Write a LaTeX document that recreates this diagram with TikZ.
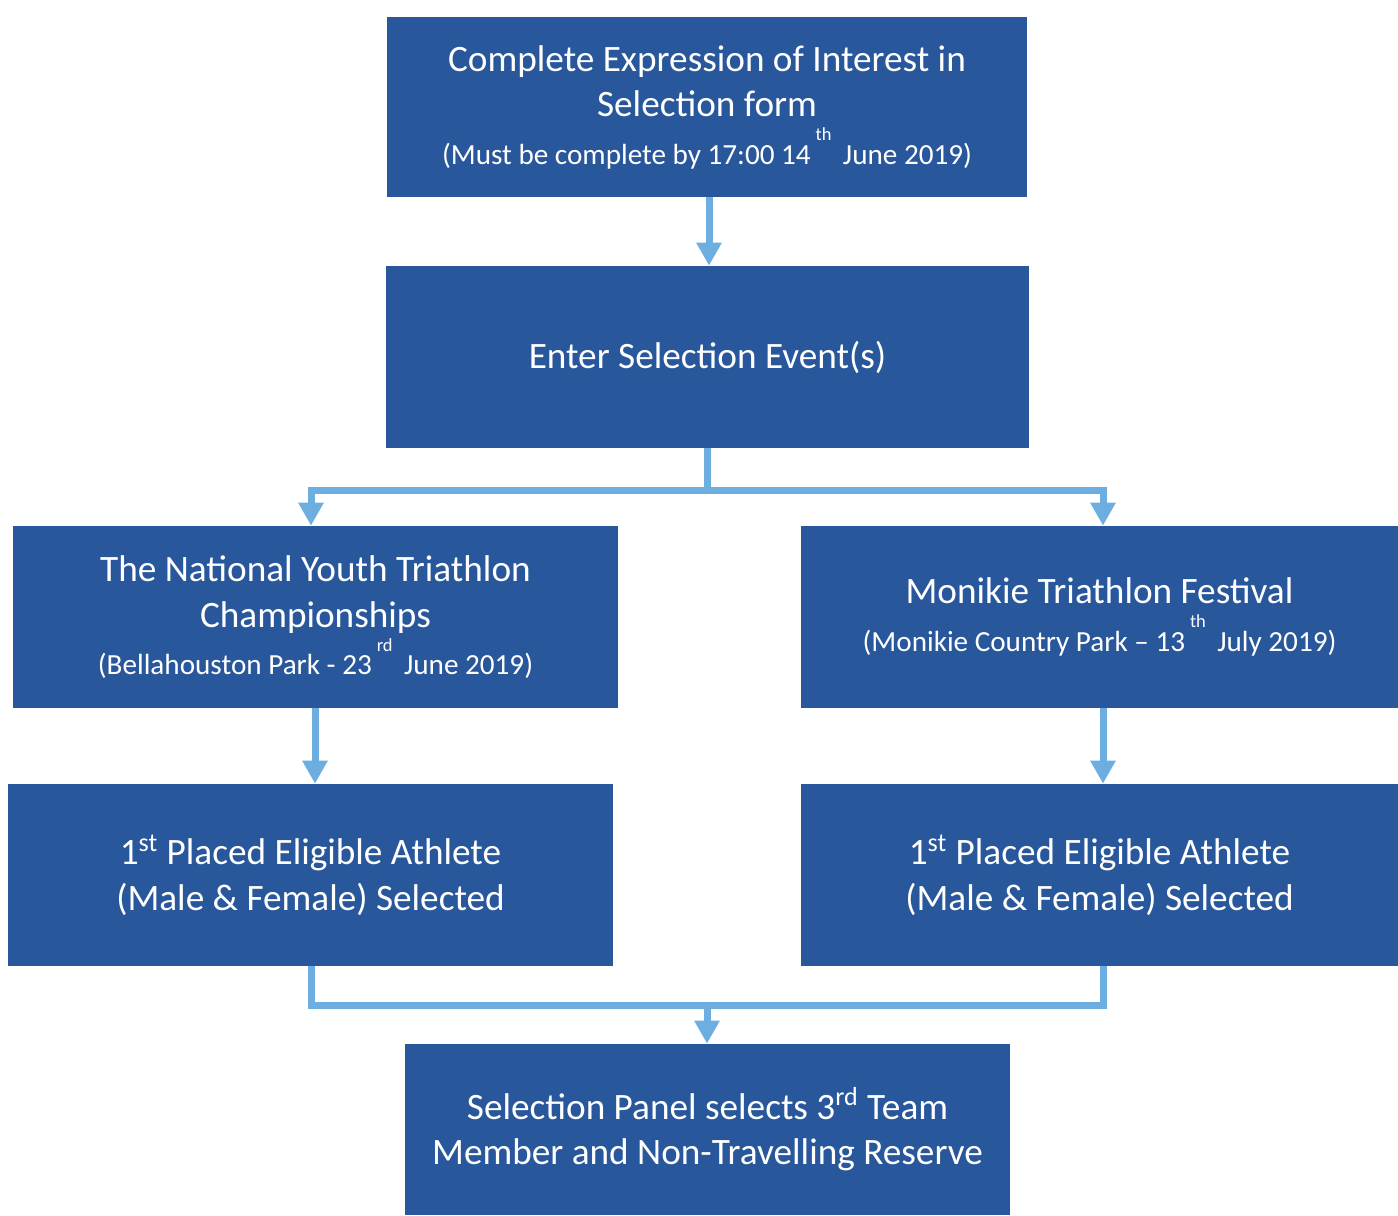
\documentclass[tikz,border=0pt]{standalone}
\usepackage{fontspec}
\setmainfont{Carlito}
\usetikzlibrary{positioning}
\usetikzlibrary{arrows.meta}

\definecolor{boxblue}{RGB}{41,87,155}
\definecolor{flowblue}{RGB}{108,174,223}

\newcommand{\bigtext}{\fontsize{21.2}{26}\selectfont}
\newcommand{\smalltext}{\fontsize{16.6}{20}\selectfont}
\newcommand{\highsup}[1]{\,\raisebox{0.8em}{\fontsize{10.5}{10}\selectfont #1}\,}

\begin{document}
\begin{tikzpicture}[x=0.02cm,y=-0.02cm]
    \tikzset{block/.style= {fill=boxblue, text=white, align=center, inner sep=0pt, minimum width=12.1cm, minimum height=3.64cm, font=\bigtext},
             line/.style= {draw=flowblue, line width=0.14cm, line join=miter},
             flow/.style= {line, -{Triangle[width=0.48cm,length=0.46cm]}},}

    \useasboundingbox (0,0) rectangle (1398,1215);

    \node [block, minimum width=12.8cm, minimum height=3.6cm] (eoi) at (707,107)
        {Complete Expression of Interest in\\Selection form\\[1pt]
         {\smalltext (Must be complete by 17:00 14\highsup{th} June 2019)}};
    \node [block, minimum width=12.86cm] (enter) at (707.5,357) {Enter Selection Event(s)};
    \node [block] (nyt) at (315.5,617)
        {The National Youth Triathlon\\Championships\\[1pt]
         {\smalltext (Bellahouston Park - 23\highsup{rd} June 2019)}};
    \node [block, minimum width=11.94cm] (mtf) at (1099.5,617)
        {Monikie Triathlon Festival\\[1pt]
         {\smalltext (Monikie Country Park -- 13\highsup{th} July 2019)}};
    \node [block] (firstl) at (310.5,875)
        {1\textsuperscript{st} Placed Eligible Athlete\\(Male \& Female) Selected};
    \node [block, minimum width=11.94cm] (firstr) at (1099.5,875)
        {1\textsuperscript{st} Placed Eligible Athlete\\(Male \& Female) Selected};
    \node [block, minimum height=3.42cm] (panel) at (707.5,1129.5)
        {Selection Panel selects 3\textsuperscript{rd} Team\\Member and Non-Travelling Reserve};

    \coordinate (split) at (707,490);
    \coordinate (splitl) at (311,490);
    \coordinate (splitr) at (1103,490);
    \coordinate (merge) at (707,1005);
    \coordinate (mergel) at (311,1005);
    \coordinate (merger) at (1103,1005);

    \draw[flow] (eoi.south -| 709,0) -- (enter.north -| 709,0);
    \draw[line] (enter.south -| split) -- (split);
    \draw[flow] (split) -| (nyt.north -| splitl);
    \draw[flow] (split) -| (mtf.north -| splitr);
    \draw[flow] (nyt.south -| 315,0) -- (firstl.north -| 315,0);
    \draw[flow] (mtf.south -| splitr) -- (firstr.north -| splitr);
    \draw[line] (firstl.south -| mergel) |- (merger) -- (firstr.south -| merger);
    \draw[flow] (merge) -- (panel.north -| merge);
\end{tikzpicture}
\end{document}
